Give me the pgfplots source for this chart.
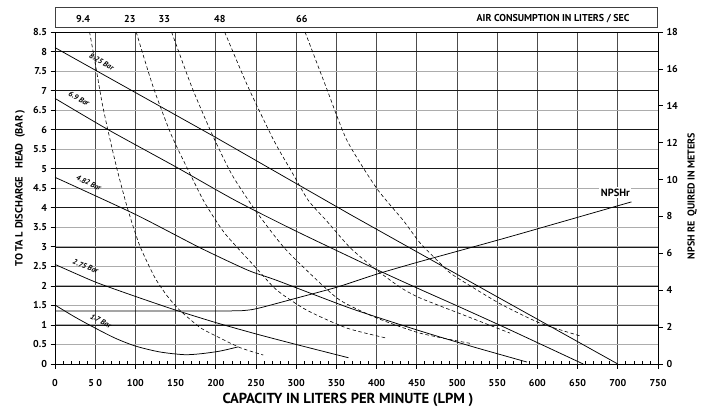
\documentclass[border=0pt]{standalone}
\usepackage{fontspec}
\setmainfont{PT Sans}
\usepackage{pgfplots}
\pgfplotsset{compat=1.18}
\usetikzlibrary{calc}
\newcommand{\tkf}{\fontsize{10}{11}\selectfont\bfseries}
\newcommand{\crf}{\fontsize{7.5}{8}\selectfont\bfseries\itshape}
\begin{document}
\begin{tikzpicture}
\begin{axis}[name=ax, scale only axis, width=603pt, height=332pt,
  xmin=0, xmax=750, ymin=0, ymax=8.5, clip=false,
  xtick={0,50,...,750},
  xticklabels={0,5 0,100,150,200,250,300,350,400,450,500,550,600,650,700,750},
  minor x tick num=4,
  ytick={0,0.5,...,8.5},
  xtick pos=bottom, ytick pos=left,
  tick align=outside, major tick length=4.5pt, minor tick length=-3pt,
  tick style={black, line width=0.7pt},
  /pgf/number format/assume math mode=true,
  tick label style={font=\tkf},
  xticklabel style={yshift=-7pt},
  xmajorgrids, ymajorgrids,
  major x grid style={black!70, line width=0.8pt},
  major y grid style={gray!65, line width=0.9pt},
  extra y ticks={1,2,3,4,5,6,7,8},
  extra y tick labels={},
  extra y tick style={ymajorgrids, major y grid style={black!90, line width=0.6pt}},
  axis line style={black, line width=0.8pt},
]
% pressure curves (bar)
\addplot[black, line width=0.75pt] coordinates {(0,8.1) (200,5.8) (367,3.83) (550,1.72) (700,0)};
\addplot[black, line width=0.75pt, smooth, tension=0.4] coordinates {(0,6.8) (66,6.0) (150,5.05) (224,4.19) (300,3.4) (402,2.4) (452,1.93) (500,1.49) (560,0.93) (657,0)};
\addplot[black, line width=0.75pt, smooth, tension=0.4] coordinates {(0,4.78) (100,3.83) (180,2.98) (240,2.4) (276,2.14) (367,1.43) (452,0.86) (520,0.44) (587,0.05)};
\addplot[black, line width=0.75pt, smooth, tension=0.4] coordinates {(0,2.55) (50,2.1) (100,1.73) (150,1.38) (200,1.06) (250,0.77) (300,0.5) (365,0.16)};
\addplot[black, line width=0.75pt, smooth, tension=0.5] coordinates {(0,1.51) (25,1.2) (50,0.92) (75,0.66) (100,0.46) (130,0.31) (160,0.24) (180,0.26) (205,0.33) (228,0.44)};
% air consumption curves (dashed)
\addplot[black, line width=0.6pt, dash pattern=on 3.5pt off 2.5pt, smooth, tension=0.4] coordinates {(43,8.5) (50,7.7) (58,6.75) (65,6.06) (77,5.0) (90,4.0) (105,3.05) (124,2.22) (140,1.73) (155,1.38) (180,0.94) (200,0.72) (230,0.42) (259,0.23)};
\addplot[black, line width=0.6pt, dash pattern=on 3.5pt off 2.5pt, smooth, tension=0.4] coordinates {(101,8.5) (122,7.1) (145,5.85) (172,4.7) (187,4.1) (211,3.35) (247,2.53) (276,1.89) (313,1.38) (363,0.92) (413,0.66)};
\addplot[black, line width=0.6pt, dash pattern=on 3.5pt off 2.5pt, smooth, tension=0.4] coordinates {(145,8.5) (170,7.1) (195,5.9) (220,4.85) (249,3.94) (284,3.0) (317,2.32) (354,1.64) (400,1.18) (454,0.79) (516,0.53)};
\addplot[black, line width=0.6pt, dash pattern=on 3.5pt off 2.5pt, smooth, tension=0.4] coordinates {(211,8.5) (240,7.1) (272,5.73) (295,4.9) (315,4.19) (338,3.66) (367,2.98) (396,2.47) (429,1.97) (454,1.69) (510,1.24) (566,0.79)};
\addplot[black, line width=0.6pt, dash pattern=on 3.5pt off 2.5pt, smooth, tension=0.4] coordinates {(311,8.5) (337,7.1) (363,5.73) (400,4.5) (433,3.68) (454,3.1) (479,2.58) (495,2.28) (553,1.55) (603,1.05) (653,0.72)};
% curve labels
\node[font=\crf, rotate=-29, inner sep=0.5pt] at (axis cs:58,7.74) {8.25 Bar};
\node[font=\crf, rotate=-29, inner sep=0.5pt] at (axis cs:30,6.8) {6.9 Bar};
\node[font=\crf, rotate=-25, inner sep=0.5pt] at (axis cs:42,4.64) {4.82 Bar};
\node[font=\crf, rotate=-22, inner sep=0.5pt] at (axis cs:38,2.5) {2.75 Bar};
\node[font=\crf, rotate=-28, inner sep=0.5pt] at (axis cs:57,1.1) {1.7 Bar};
% top labels
\node[font=\tkf] at ([yshift=13pt]axis cs:35,8.5) {9.4};
\node[font=\tkf] at ([yshift=13pt]axis cs:93,8.5) {23};
\node[font=\tkf] at ([yshift=13pt]axis cs:136,8.5) {33};
\node[font=\tkf] at ([yshift=13pt]axis cs:205,8.5) {48};
\node[font=\tkf] at ([yshift=13pt]axis cs:307,8.5) {66};
\node[font=\tkf, anchor=east] at ([yshift=13pt]axis cs:719,8.5) {AIR CONSUMPTION IN LITERS / SEC};
\end{axis}
\begin{axis}[scale only axis, width=603pt, height=332pt,
  xmin=0, xmax=750, ymin=0, ymax=18,
  axis x line=none, axis y line*=right,
  ytick={0,2,...,18},
  tick align=outside, major tick length=5pt,
  tick style={black, line width=0.7pt},
  /pgf/number format/assume math mode=true,
  tick label style={font=\tkf},
  axis line style={black, line width=0.8pt},
]
\addplot[black, line width=0.75pt, smooth, tension=0.35] coordinates {(0,2.88) (215,2.88) (232,2.89) (245,2.95) (260,3.1) (301,3.58) (351,4.17) (400,4.87) (452,5.53) (560,6.83) (717,8.79)};
\node[font=\fontsize{10.5}{12}\selectfont\bfseries, fill=white, inner sep=1.5pt] at (axis cs:697,9.3) {NPSHr};
\end{axis}
\draw[black!75, line width=0.8pt] ($(ax.north west)+(0,4.7pt)$) rectangle ($(ax.north east)+(-1pt,24.7pt)$);
\node[font=\fontsize{10.5}{12}\selectfont\bfseries, rotate=90] at ($(ax.south west)+(-35pt,176pt)$) {TO TA L DISCHARGE\ \ \ HEAD\ \ (BAR )};
\node[font=\fontsize{10}{12}\selectfont\bfseries, rotate=90] at ($(ax.south east)+(34pt,168pt)$) {NPSH RE\ \ QUIRED IN METERS};
\node[font=\fontsize{14.5}{16}\selectfont\bfseries] at ($(ax.south west)+(293pt,-36pt)$) {CAPACITY IN LITERS PER MINUTE (LPM )};
\pgfresetboundingbox
\path ($(ax.south west)+(-55pt,-49pt)$) rectangle ($(ax.north east)+(50pt,32pt)$);
\end{tikzpicture}
\end{document}
